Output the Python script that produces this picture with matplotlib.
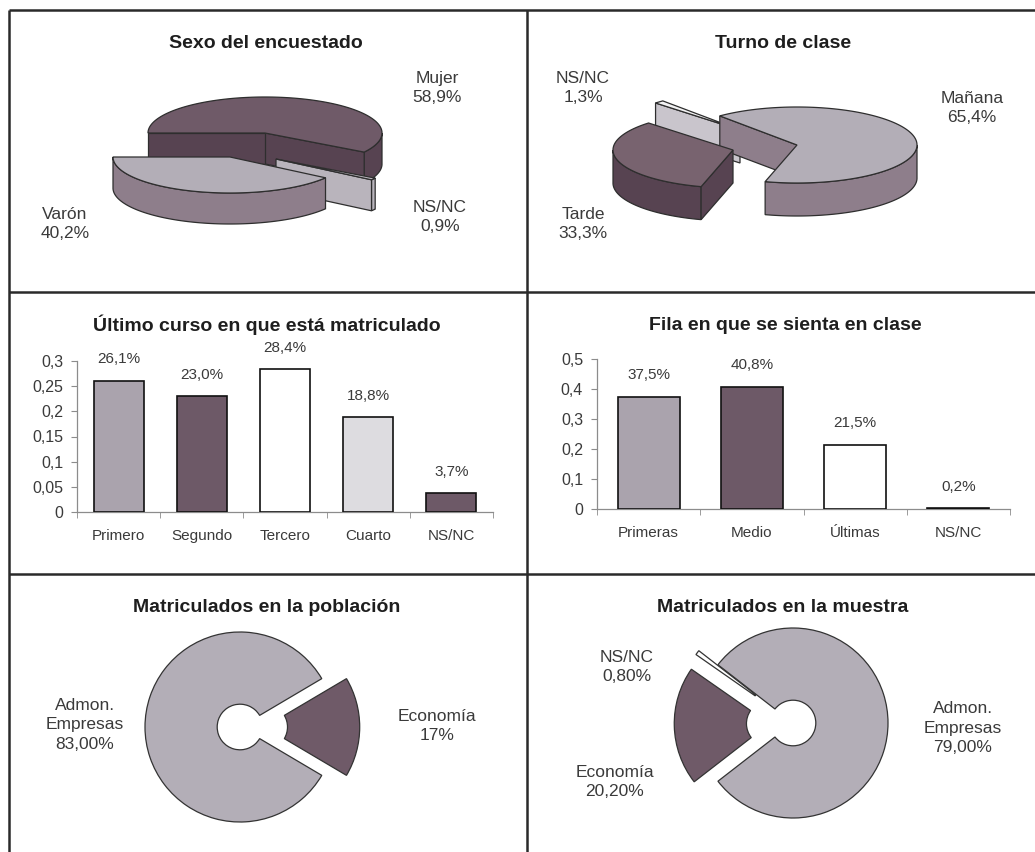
import numpy as np
import matplotlib
matplotlib.use("Agg")
import matplotlib.pyplot as plt
from matplotlib.patches import Polygon
from matplotlib.ticker import FuncFormatter, FixedLocator

plt.rcParams['font.family'] = ['Liberation Sans', 'DejaVu Sans']

# ---------------- data ----------------
sexo_labels = ["Varón", "NS/NC", "Mujer"]
sexo_values = [40.2, 0.9, 58.9]

turno_labels = ["Mañana", "NS/NC", "Tarde"]
turno_values = [65.4, 1.3, 33.3]

curso_cats = ["Primero", "Segundo", "Tercero", "Cuarto", "NS/NC"]
curso_values = [0.261, 0.230, 0.284, 0.188, 0.037]
curso_ticks = [0, 0.05, 0.1, 0.15, 0.2, 0.25, 0.3]

fila_cats = ["Primeras", "Medio", "Últimas", "NS/NC"]
fila_values = [0.375, 0.408, 0.215, 0.002]
fila_ticks = [0, 0.1, 0.2, 0.3, 0.4, 0.5]

pob_labels = ["Economía", "Admon.\nEmpresas"]
pob_values = [17.0, 83.0]
pob_texts = ["17%", "83,00%"]

mue_labels = ["Admon.\nEmpresas", "NS/NC", "Economía"]
mue_values = [79.0, 0.8, 20.2]
mue_texts = ["79,00%", "0,80%", "20,20%"]

# ---------------- style ----------------
LIGHT = '#b3aeb7'
LIGHT_SIDE = '#8e7e8b'
DARK = '#6f5a68'
DARK_SIDE = '#574351'
PALE = '#dddce0'
WHITE = '#ffffff'
EDGE = '#2e2e2e'
TXT = '#3a3a3a'

W, H = 1035, 852
fig = plt.figure(figsize=(W / 100, H / 100), dpi=100)
fig.patch.set_facecolor('white')

# frame axes in pixel coordinates
fr = fig.add_axes([0, 0, 1, 1])
fr.set_xlim(0, W)
fr.set_ylim(H, 0)
fr.axis('off')

def hline(y, x0, x1):
    fr.plot([x0, x1], [y, y], color='#2a2a2a', lw=1.8, solid_capstyle='butt')

def vline(x, y0, y1):
    fr.plot([x, x], [y0, y1], color='#2a2a2a', lw=1.8, solid_capstyle='butt')

hline(10, 9, W)
hline(292, 9, W)
hline(574, 9, W)
vline(9, 10, H)
vline(527, 10, H)

def title(x, y, s):
    fr.text(x, y, s, ha='center', va='center', fontsize=14, fontweight='bold', color='#1e1e1e')

def label(x, y, s, fs=12.5, ls=1.3):
    fr.text(x, y, s, ha='center', va='center', fontsize=fs, color=TXT, linespacing=ls)

def fmt_pct(v, nd=1):
    return (f"{v:.{nd}f}%").replace('.', ',')

# ---------------- 3D pie ----------------
def pie3d(ax, vals, tops, sides, start, shifts, cx, cy, rx, ry, h):
    """shifts: per-slice pull-out offsets in pixels (dx, dy downwards)."""
    tot = float(sum(vals))
    angs = []
    a = start
    for v in vals:
        span = 360.0 * v / tot
        angs.append((a, a + span))
        a += span
    order = sorted(range(len(vals)),
                   key=lambda i: -np.sin(np.radians((angs[i][0] + angs[i][1]) / 2)))
    for i in order:
        a0, a1 = angs[i]
        ox = cx + shifts[i][0]
        oy = cy + shifts[i][1]

        def P(t, r=1.0, z=0.0):
            return (ox + r * rx * np.cos(t), oy - r * ry * np.sin(t) + z)

        ts = np.radians(np.linspace(a0, a1, 400))
        front = np.sin(ts) <= 1e-9
        runs, cur = [], []
        for t, f in zip(ts, front):
            if f:
                cur.append(t)
            elif cur:
                runs.append(cur)
                cur = []
        if cur:
            runs.append(cur)
        for run in runs:
            if len(run) < 2:
                continue
            pts = [P(t) for t in run] + [P(t, 1, h) for t in run[::-1]]
            ax.add_patch(Polygon(pts, closed=True, fc=sides[i], ec=EDGE, lw=0.9, zorder=3))
        for ang, vis in ((np.radians(a0), np.cos(np.radians(a0)) > 0),
                         (np.radians(a1), np.cos(np.radians(a1)) < 0)):
            if vis:
                pts = [P(0, 0, 0), P(ang), P(ang, 1, h), P(0, 0, h)]
                ax.add_patch(Polygon(pts, closed=True, fc=sides[i], ec=EDGE, lw=0.9, zorder=3))
        pts = [P(0, 0)] + [P(t) for t in ts]
        ax.add_patch(Polygon(pts, closed=True, fc=tops[i], ec=EDGE, lw=0.9, zorder=3))

# Panel 1: Sexo
title(266, 43, "Sexo del encuestado")
pie3d(fr, sexo_values, [LIGHT, '#bdb8c0', DARK], [LIGHT_SIDE, '#b9b4bc', DARK_SIDE],
      180, [(-35, 24), (11, 26), (0, 0)], 265, 133, 117, 36, 31)
label(65, 224, "Varón\n" + fmt_pct(sexo_values[0]))
label(440, 217, "NS/NC\n" + fmt_pct(sexo_values[1]))
label(437, 88, "Mujer\n" + fmt_pct(sexo_values[2]))

# Panel 2: Turno
title(783, 43, "Turno de clase")
pie3d(fr, turno_values, [LIGHT, '#f2f2f3', '#78636f'], [LIGHT_SIDE, '#c9c5cc', DARK_SIDE],
      -105.4, [(0, 0), (-57, -15), (-64, 5)], 797, 145, 120, 38, 33)
label(972, 108, "Mañana\n" + fmt_pct(turno_values[0]))
label(583, 88, "NS/NC\n" + fmt_pct(turno_values[1]))
label(583, 224, "Tarde\n" + fmt_pct(turno_values[2]))

# ---------------- bar charts ----------------
def comma(v, pos=None):
    return (f"{v:g}").replace('.', ',')

def barchart(rect, cats, vals, colors, ticks, ymax):
    ax = fig.add_axes(rect)
    x = np.arange(len(cats))
    ax.bar(x, vals, width=0.6, color=colors, edgecolor='#111111', linewidth=1.2, zorder=3)
    ax.set_xlim(-0.5, len(cats) - 0.5)
    ax.set_ylim(0, ymax)
    ax.set_yticks(ticks)
    ax.yaxis.set_major_formatter(FuncFormatter(comma))
    ax.set_xticks(x)
    ax.set_xticklabels(cats)
    ax.xaxis.set_minor_locator(FixedLocator(np.arange(len(cats) + 1) - 0.5))
    ax.tick_params(axis='x', which='major', length=0, pad=12, labelsize=11, labelcolor=TXT)
    ax.tick_params(axis='x', which='minor', length=4, color='#8c8c8c', direction='out')
    ax.tick_params(axis='y', length=4, color='#8c8c8c', labelsize=11.5, labelcolor=TXT, pad=6)
    for s in ('top', 'right'):
        ax.spines[s].set_visible(False)
    for s in ('left', 'bottom'):
        ax.spines[s].set_color('#8c8c8c')
        ax.spines[s].set_linewidth(0.9)
    ax.set_facecolor('none')
    for xi, v in zip(x, vals):
        ax.annotate(fmt_pct(v * 100), (xi, v), xytext=(0, 15.5), textcoords='offset points',
                    ha='center', va='center', fontsize=11, color=TXT, annotation_clip=False)
    return ax

title(267, 325, "Último curso en que está matriculado")
barchart([77 / W, (H - 512) / H, 416 / W, 151 / H], curso_cats, curso_values,
         ['#aaa3ad', '#6d5967', WHITE, PALE, '#6d5967'], curso_ticks, 0.3)

title(785, 325, "Fila en que se sienta en clase")
barchart([597 / W, (H - 509) / H, 413 / W, 150 / H], fila_cats, fila_values,
         ['#aaa3ad', '#6d5967', WHITE, WHITE], fila_ticks, 0.5)

# ---------------- donuts ----------------
def donut(cx, cy, R, vals, colors, start, explode):
    lim = 1.4
    side = 2 * lim * R
    ax = fig.add_axes([(cx - side / 2) / W, (H - cy - side / 2) / H, side / W, side / H])
    ax.pie(vals, colors=colors, startangle=start, counterclock=True, explode=explode,
           wedgeprops=dict(width=0.76, edgecolor='#333333', linewidth=0.9))
    ax.set_xlim(-lim, lim)
    ax.set_ylim(-lim, lim)
    ax.set_aspect('equal')
    ax.axis('off')
    return ax

title(267, 607, "Matriculados en la población")
donut(240, 727, 95, pob_values, [DARK, LIGHT], -180 * pob_values[0] / sum(pob_values), [0.26, 0.0])
label(437, 726, pob_labels[0] + "\n" + pob_texts[0], ls=1.35)
label(85, 725, pob_labels[1] + "\n" + pob_texts[1], ls=1.35)

title(783, 607, "Matriculados en la muestra")
donut(793, 723, 95, mue_values, [LIGHT, WHITE, DARK], -180 * mue_values[0] / sum(mue_values),
      [0.0, 0.25, 0.25])
label(963, 728, mue_labels[0] + "\n" + mue_texts[0], ls=1.35)
label(627, 667, mue_labels[1] + "\n" + mue_texts[1], ls=1.35)
label(615, 782, mue_labels[2] + "\n" + mue_texts[2], ls=1.35)

fig.savefig("out.png", dpi=100, facecolor='white')
